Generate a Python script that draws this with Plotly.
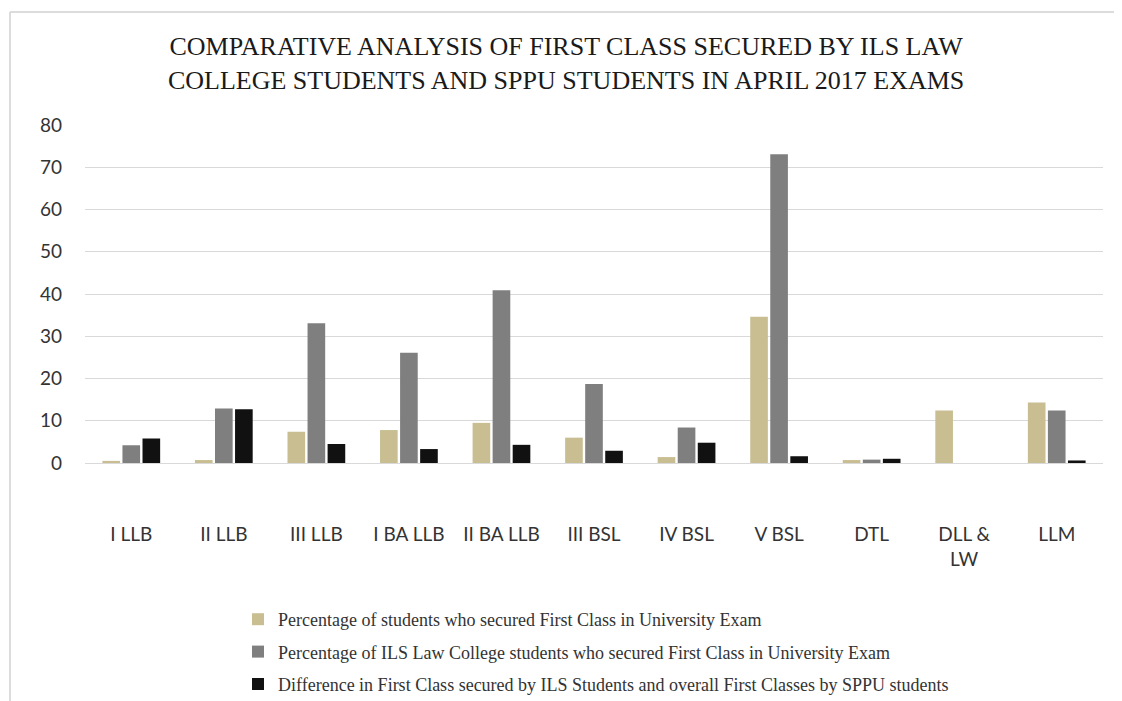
import plotly.graph_objects as go

categories = ["I LLB", "II LLB", "III LLB", "I BA LLB", "II BA LLB", "III BSL",
              "IV BSL", "V BSL", "DTL", "DLL &<br>LW", "LLM"]
sppu_pct = [0.5, 0.7, 7.4, 7.8, 9.5, 6.0, 1.4, 34.6, 0.7, 12.4, 14.3]
ils_pct = [4.2, 12.9, 33.1, 26.1, 40.9, 18.7, 8.4, 73.1, 0.8, 0, 12.4]
difference = [5.8, 12.7, 4.5, 3.3, 4.3, 2.9, 4.8, 1.6, 1.0, 0, 0.6]
y_ticks = [0, 10, 20, 30, 40, 50, 60, 70, 80]

names = [
    "Percentage of students who secured First Class in University Exam",
    "Percentage of ILS Law College students who secured First Class in University Exam",
    "Difference in First Class secured by ILS Students and overall First Classes by SPPU students",
]
colors = ["#C9BE92", "#7F7F7F", "#111111"]
series = [sppu_pct, ils_pct, difference]

fig = go.Figure()
for i, (nm, vals, c) in enumerate(zip(names, series, colors)):
    fig.add_trace(go.Bar(x=categories, y=vals, name=nm, marker_color=c,
                         marker_line_width=0, legendgroup=f"g{i}"))

# figure coordinates (page body adds an 8px offset)
W, H = 1114, 701
L, T = 77, 117
PR, PB = 1095, 455
R, B = W - PR, H - PB
pw, ph = PR - L, PB - T

def px(xp):
    return (xp - L) / pw

def py(yp):
    return (PB - yp) / ph

fig.update_layout(
    width=W, height=H,
    margin=dict(l=L, r=R, t=T, b=B, autoexpand=False),
    paper_bgcolor="white", plot_bgcolor="white",
    barmode="group", bargap=0.35, bargroupgap=0.12,
    title=dict(
        text="COMPARATIVE ANALYSIS OF FIRST CLASS SECURED BY ILS LAW<br>COLLEGE STUDENTS AND SPPU STUDENTS IN APRIL 2017 EXAMS",
        x=0.501, xanchor="center", y=1 - 47 / H, yanchor="middle",
        font=dict(family="Liberation Serif", size=26, color="#1a1a1a"),
    ),
    legend=dict(
        xref="container", yref="container",
        x=230 / W, y=1 - 593 / H, xanchor="left", yanchor="top",
        orientation="v", traceorder="grouped", tracegroupgap=6,
        font=dict(family="Liberation Serif", size=18, color="#333333"),
        bgcolor="rgba(0,0,0,0)", itemwidth=30,
    ),
    xaxis=dict(
        showgrid=False, showline=False, ticks="",
        tickfont=dict(family="Lato", size=19, color="#333333"),
        ticklabelstandoff=58,
    ),
    yaxis=dict(
        range=[0, 80], tickvals=y_ticks, showgrid=True, gridcolor="#D9D9D9",
        gridwidth=1.3, zeroline=True, zerolinecolor="#D9D9D9", zerolinewidth=1.3,
        tickfont=dict(family="Lato", size=19, color="#333333"),
        ticklabelstandoff=22,
    ),
    shapes=[
        dict(type="line", xref="paper", yref="paper", x0=px(2), x1=px(2),
             y0=py(4), y1=py(705), line=dict(color="#D0D0D0", width=1.5)),
        dict(type="line", xref="paper", yref="paper", x0=px(2), x1=px(1120),
             y0=py(4), y1=py(4), line=dict(color="#D0D0D0", width=1.5)),
    ],
)

fig.write_html("out.html")
